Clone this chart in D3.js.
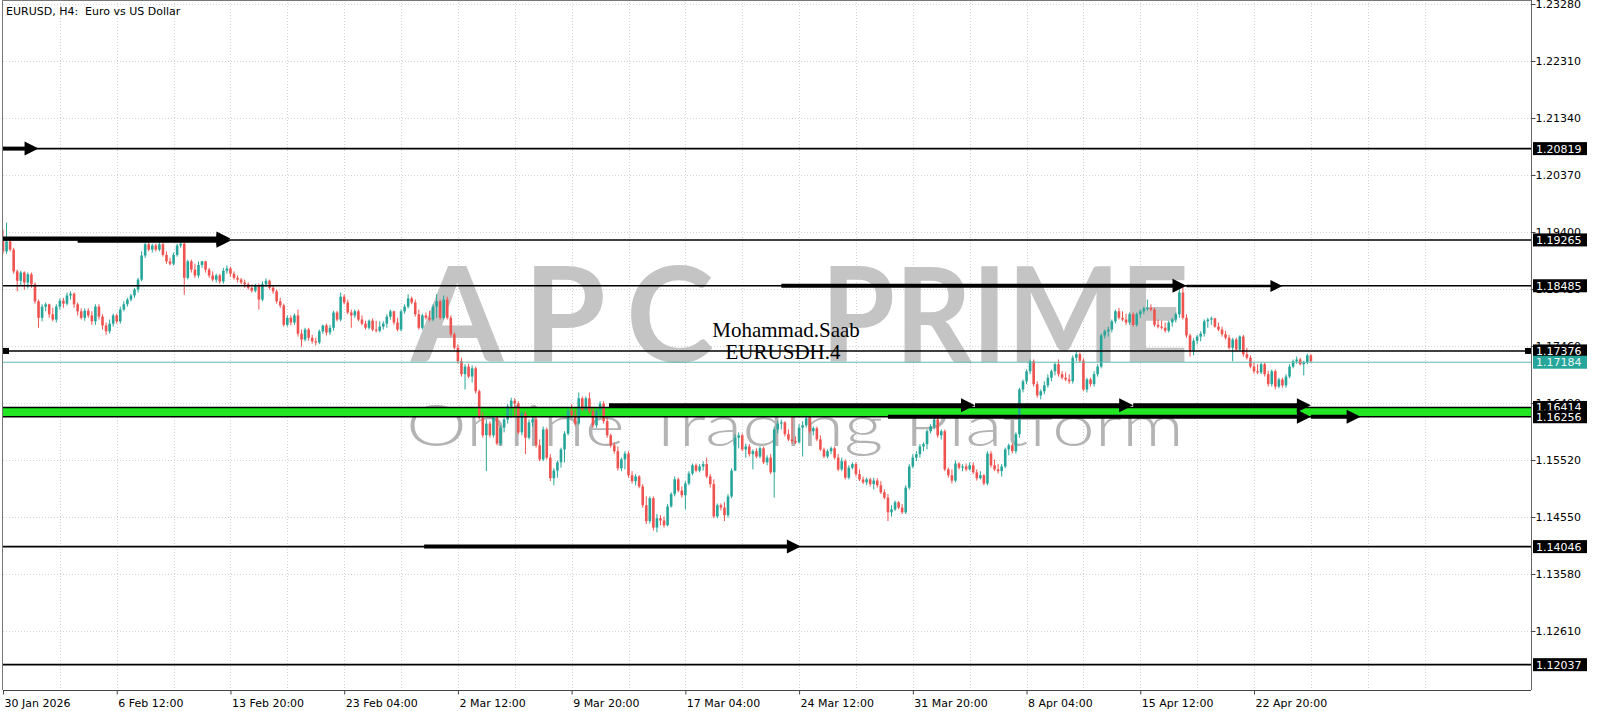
<!DOCTYPE html>
<html><head><meta charset="utf-8">
<script src="https://cdn.jsdelivr.net/npm/d3@7"></script>
<style>html,body{margin:0;padding:0;background:#fff;overflow:hidden}svg{display:block}</style>
</head><body>
<svg id="chart" width="1600" height="711"></svg>
<script>
const chartTitle = "EURUSD, H4:  Euro vs US Dollar";
const opens = [1.1927,1.1907,1.1924,1.1910,1.1873,1.1857,1.1871,1.1854,1.1868,1.1851,
1.1822,1.1794,1.1813,1.1817,1.1800,1.1791,1.1813,1.1823,1.1818,1.1832,
1.1835,1.1817,1.1805,1.1794,1.1806,1.1798,1.1788,1.1813,1.1796,1.1781,
1.1771,1.1784,1.1798,1.1788,1.1808,1.1817,1.1825,1.1832,1.1842,1.1859,
1.1900,1.1919,1.1910,1.1917,1.1910,1.1919,1.1901,1.1890,1.1886,1.1901,
1.1917,1.1920,1.1862,1.1890,1.1876,1.1866,1.1884,1.1890,1.1876,1.1866,
1.1859,1.1866,1.1856,1.1874,1.1878,1.1869,1.1862,1.1859,1.1854,1.1851,
1.1845,1.1840,1.1849,1.1825,1.1851,1.1857,1.1845,1.1839,1.1822,1.1815,
1.1782,1.1794,1.1786,1.1798,1.1767,1.1757,1.1774,1.1760,1.1754,1.1752,
1.1771,1.1781,1.1769,1.1777,1.1803,1.1791,1.1830,1.1820,1.1803,1.1798,
1.1805,1.1791,1.1784,1.1777,1.1789,1.1774,1.1772,1.1779,1.1784,1.1796,
1.1805,1.1786,1.1774,1.1805,1.1813,1.1827,1.1820,1.1800,1.1777,1.1798,
1.1794,1.1791,1.1813,1.1822,1.1794,1.1825,1.1794,1.1766,1.1743,1.1720,
1.1698,1.1711,1.1694,1.1708,1.1669,1.1624,1.1594,1.1614,1.1594,1.1624,
1.1580,1.1607,1.1621,1.1643,1.1653,1.1648,1.1599,1.1631,1.1590,1.1616,
1.1621,1.1577,1.1553,1.1604,1.1556,1.1521,1.1534,1.1548,1.1570,1.1597,
1.1636,1.1628,1.1614,1.1657,1.1638,1.1657,1.1635,1.1611,1.1636,1.1648,
1.1618,1.1594,1.1577,1.1567,1.1538,1.1553,1.1563,1.1526,1.1516,1.1524,
1.1507,1.1475,1.1448,1.1487,1.1437,1.1453,1.1449,1.1441,1.1473,1.1494,
1.1519,1.1500,1.1492,1.1512,1.1529,1.1543,1.1534,1.1541,1.1545,1.1524,
1.1511,1.1456,1.1475,1.1471,1.1458,1.1490,1.1534,1.1590,1.1594,1.1570,
1.1575,1.1562,1.1567,1.1558,1.1572,1.1548,1.1556,1.1531,1.1604,1.1614,
1.1616,1.1596,1.1587,1.1584,1.1582,1.1607,1.1611,1.1623,1.1601,1.1606,
1.1587,1.1570,1.1558,1.1567,1.1572,1.1556,1.1536,1.1550,1.1522,1.1539,
1.1545,1.1528,1.1519,1.1514,1.1519,1.1511,1.1517,1.1509,1.1497,1.1488,
1.1463,1.1468,1.1480,1.1471,1.1463,1.1505,1.1541,1.1556,1.1562,1.1575,
1.1579,1.1601,1.1609,1.1621,1.1594,1.1601,1.1536,1.1526,1.1517,1.1546,
1.1539,1.1541,1.1536,1.1543,1.1531,1.1521,1.1526,1.1512,1.1563,1.1543,
1.1536,1.1533,1.1541,1.1570,1.1577,1.1567,1.1596,1.1672,1.1686,1.1703,
1.1720,1.1681,1.1662,1.1669,1.1679,1.1692,1.1703,1.1715,1.1698,1.1692,
1.1689,1.1686,1.1726,1.1732,1.1721,1.1672,1.1689,1.1681,1.1698,1.1711,
1.1764,1.1771,1.1774,1.1788,1.1805,1.1794,1.1791,1.1786,1.1800,1.1782,
1.1800,1.1805,1.1810,1.1811,1.1808,1.1782,1.1779,1.1777,1.1772,1.1786,
1.1791,1.1800,1.1837,1.1794,1.1764,1.1737,1.1755,1.1762,1.1767,1.1788,
1.1791,1.1793,1.1779,1.1774,1.1766,1.1760,1.1743,1.1757,1.1740,1.1762,
1.1732,1.1726,1.1711,1.1703,1.1701,1.1715,1.1698,1.1681,1.1703,1.1677,
1.1689,1.1679,1.1694,1.1711,1.1720,1.1723,1.1715,1.1718,1.1730];
const highs = [1.1944,1.1956,1.1930,1.1913,1.1876,1.1874,1.1873,1.1871,1.1871,1.1854,
1.1825,1.1817,1.1820,1.1818,1.1811,1.1817,1.1827,1.1828,1.1837,1.1839,
1.1837,1.1820,1.1810,1.1810,1.1810,1.1805,1.1817,1.1817,1.1800,1.1786,
1.1791,1.1801,1.1801,1.1813,1.1822,1.1828,1.1835,1.1845,1.1862,1.1907,
1.1922,1.1922,1.1920,1.1920,1.1922,1.1922,1.1907,1.1896,1.1905,1.1920,
1.1924,1.1922,1.1893,1.1893,1.1886,1.1890,1.1891,1.1891,1.1879,1.1873,
1.1869,1.1869,1.1879,1.1883,1.1881,1.1873,1.1866,1.1862,1.1859,1.1854,
1.1851,1.1852,1.1852,1.1856,1.1861,1.1859,1.1849,1.1842,1.1828,1.1818,
1.1798,1.1798,1.1801,1.1808,1.1774,1.1777,1.1777,1.1765,1.1760,1.1774,
1.1782,1.1784,1.1782,1.1806,1.1806,1.1837,1.1834,1.1825,1.1808,1.1808,
1.1808,1.1798,1.1789,1.1791,1.1793,1.1789,1.1788,1.1788,1.1800,1.1808,
1.1806,1.1794,1.1808,1.1817,1.1834,1.1830,1.1825,1.1808,1.1801,1.1803,
1.1806,1.1817,1.1834,1.1825,1.1832,1.1830,1.1798,1.1769,1.1749,1.1726,
1.1715,1.1716,1.1713,1.1711,1.1672,1.1633,1.1621,1.1618,1.1628,1.1626,
1.1611,1.1624,1.1647,1.1658,1.1657,1.1652,1.1635,1.1635,1.1621,1.1624,
1.1626,1.1587,1.1609,1.1607,1.1562,1.1538,1.1551,1.1573,1.1601,1.1640,
1.1647,1.1638,1.1667,1.1660,1.1660,1.1667,1.1641,1.1640,1.1652,1.1652,
1.1624,1.1597,1.1582,1.1575,1.1556,1.1567,1.1567,1.1533,1.1528,1.1526,
1.1511,1.1490,1.1490,1.1490,1.1460,1.1458,1.1456,1.1477,1.1497,1.1524,
1.1522,1.1507,1.1516,1.1533,1.1546,1.1546,1.1545,1.1550,1.1556,1.1528,
1.1519,1.1478,1.1478,1.1480,1.1494,1.1538,1.1596,1.1599,1.1597,1.1580,
1.1579,1.1570,1.1572,1.1575,1.1575,1.1560,1.1562,1.1609,1.1619,1.1621,
1.1618,1.1604,1.1626,1.1592,1.1613,1.1618,1.1628,1.1626,1.1609,1.1609,
1.1594,1.1573,1.1570,1.1575,1.1575,1.1562,1.1556,1.1553,1.1543,1.1548,
1.1548,1.1536,1.1524,1.1522,1.1522,1.1522,1.1521,1.1516,1.1502,1.1494,
1.1475,1.1483,1.1482,1.1477,1.1509,1.1545,1.1562,1.1567,1.1579,1.1582,
1.1604,1.1613,1.1626,1.1624,1.1604,1.1604,1.1539,1.1536,1.1551,1.1548,
1.1545,1.1546,1.1548,1.1548,1.1536,1.1533,1.1528,1.1567,1.1567,1.1553,
1.1545,1.1545,1.1573,1.1580,1.1580,1.1599,1.1675,1.1689,1.1706,1.1723,
1.1723,1.1686,1.1672,1.1686,1.1698,1.1706,1.1718,1.1723,1.1703,1.1701,
1.1698,1.1730,1.1737,1.1735,1.1725,1.1692,1.1692,1.1703,1.1715,1.1767,
1.1774,1.1779,1.1791,1.1808,1.1811,1.1805,1.1801,1.1803,1.1803,1.1803,
1.1808,1.1813,1.1825,1.1817,1.1811,1.1791,1.1789,1.1786,1.1789,1.1794,
1.1803,1.1842,1.1847,1.1800,1.1767,1.1759,1.1765,1.1771,1.1791,1.1794,
1.1796,1.1794,1.1786,1.1779,1.1772,1.1765,1.1760,1.1760,1.1764,1.1765,
1.1743,1.1730,1.1718,1.1715,1.1718,1.1718,1.1704,1.1706,1.1706,1.1692,
1.1692,1.1698,1.1715,1.1723,1.1728,1.1726,1.1721,1.1733,1.1732];
const lows = [1.1903,1.1903,1.1907,1.1869,1.1839,1.1849,1.1842,1.1844,1.1845,1.1818,
1.1777,1.1788,1.1805,1.1794,1.1788,1.1786,1.1808,1.1811,1.1815,1.1825,
1.1811,1.1798,1.1791,1.1789,1.1794,1.1782,1.1782,1.1791,1.1774,1.1765,
1.1767,1.1779,1.1784,1.1784,1.1805,1.1813,1.1822,1.1828,1.1837,1.1856,
1.1896,1.1907,1.1905,1.1907,1.1907,1.1898,1.1886,1.1883,1.1883,1.1898,
1.1913,1.1833,1.1859,1.1871,1.1862,1.1862,1.1879,1.1871,1.1862,1.1856,
1.1854,1.1852,1.1852,1.1869,1.1864,1.1859,1.1854,1.1851,1.1845,1.1842,
1.1837,1.1837,1.1808,1.1822,1.1847,1.1842,1.1835,1.1818,1.1811,1.1779,
1.1779,1.1781,1.1782,1.1762,1.1745,1.1754,1.1755,1.1750,1.1747,1.1749,
1.1767,1.1764,1.1765,1.1772,1.1788,1.1788,1.1817,1.1800,1.1777,1.1794,
1.1788,1.1781,1.1774,1.1774,1.1771,1.1769,1.1769,1.1774,1.1777,1.1791,
1.1782,1.1771,1.1771,1.1801,1.1810,1.1817,1.1796,1.1774,1.1774,1.1791,
1.1788,1.1788,1.1794,1.1791,1.1791,1.1791,1.1762,1.1740,1.1716,1.1694,
1.1672,1.1691,1.1684,1.1665,1.1621,1.1590,1.1533,1.1590,1.1590,1.1577,
1.1577,1.1599,1.1614,1.1624,1.1626,1.1596,1.1594,1.1562,1.1587,1.1609,
1.1573,1.1550,1.1550,1.1553,1.1516,1.1509,1.1522,1.1539,1.1548,1.1594,
1.1624,1.1611,1.1611,1.1635,1.1635,1.1631,1.1607,1.1607,1.1624,1.1614,
1.1590,1.1573,1.1563,1.1534,1.1533,1.1536,1.1522,1.1512,1.1509,1.1504,
1.1471,1.1443,1.1444,1.1432,1.1429,1.1441,1.1437,1.1439,1.1471,1.1490,
1.1497,1.1488,1.1468,1.1509,1.1526,1.1531,1.1531,1.1534,1.1521,1.1505,
1.1453,1.1453,1.1466,1.1448,1.1454,1.1487,1.1533,1.1572,1.1567,1.1556,
1.1558,1.1536,1.1555,1.1555,1.1545,1.1543,1.1528,1.1488,1.1597,1.1604,
1.1592,1.1584,1.1580,1.1579,1.1580,1.1558,1.1607,1.1597,1.1594,1.1584,
1.1567,1.1555,1.1555,1.1562,1.1553,1.1533,1.1533,1.1519,1.1519,1.1536,
1.1524,1.1516,1.1511,1.1509,1.1507,1.1502,1.1505,1.1494,1.1485,1.1448,
1.1456,1.1465,1.1468,1.1460,1.1460,1.1502,1.1538,1.1550,1.1556,1.1567,
1.1570,1.1597,1.1604,1.1590,1.1587,1.1533,1.1522,1.1512,1.1514,1.1536,
1.1533,1.1533,1.1534,1.1528,1.1517,1.1519,1.1509,1.1509,1.1539,1.1533,
1.1529,1.1524,1.1538,1.1560,1.1563,1.1563,1.1590,1.1667,1.1681,1.1698,
1.1677,1.1658,1.1655,1.1664,1.1675,1.1686,1.1696,1.1694,1.1689,1.1686,
1.1682,1.1682,1.1720,1.1718,1.1669,1.1667,1.1677,1.1677,1.1694,1.1708,
1.1759,1.1762,1.1769,1.1784,1.1791,1.1788,1.1782,1.1782,1.1779,1.1779,
1.1794,1.1800,1.1806,1.1805,1.1779,1.1776,1.1774,1.1769,1.1769,1.1779,
1.1786,1.1794,1.1791,1.1760,1.1728,1.1730,1.1749,1.1754,1.1762,1.1777,
1.1782,1.1777,1.1771,1.1762,1.1757,1.1740,1.1720,1.1737,1.1737,1.1728,
1.1723,1.1708,1.1699,1.1698,1.1698,1.1694,1.1677,1.1677,1.1672,1.1674,
1.1675,1.1675,1.1691,1.1708,1.1716,1.1713,1.1696,1.1715,1.1718];
const closes = [1.1907,1.1924,1.1910,1.1873,1.1857,1.1871,1.1854,1.1868,1.1851,1.1822,
1.1794,1.1813,1.1817,1.1800,1.1791,1.1813,1.1823,1.1818,1.1832,1.1835,
1.1817,1.1805,1.1794,1.1806,1.1798,1.1788,1.1813,1.1796,1.1781,1.1771,
1.1784,1.1798,1.1788,1.1808,1.1817,1.1825,1.1832,1.1842,1.1859,1.1900,
1.1919,1.1910,1.1917,1.1910,1.1919,1.1901,1.1890,1.1886,1.1901,1.1917,
1.1920,1.1862,1.1890,1.1876,1.1866,1.1884,1.1890,1.1876,1.1866,1.1859,
1.1866,1.1856,1.1874,1.1878,1.1869,1.1862,1.1859,1.1854,1.1851,1.1845,
1.1840,1.1849,1.1825,1.1851,1.1857,1.1845,1.1839,1.1822,1.1815,1.1782,
1.1794,1.1786,1.1798,1.1767,1.1757,1.1774,1.1760,1.1754,1.1752,1.1771,
1.1781,1.1769,1.1777,1.1803,1.1791,1.1830,1.1820,1.1803,1.1798,1.1805,
1.1791,1.1784,1.1777,1.1789,1.1774,1.1772,1.1779,1.1784,1.1796,1.1805,
1.1786,1.1774,1.1805,1.1813,1.1827,1.1820,1.1800,1.1777,1.1798,1.1794,
1.1791,1.1813,1.1822,1.1794,1.1825,1.1794,1.1766,1.1743,1.1720,1.1698,
1.1711,1.1694,1.1708,1.1669,1.1624,1.1594,1.1614,1.1594,1.1624,1.1580,
1.1607,1.1621,1.1643,1.1653,1.1648,1.1599,1.1631,1.1590,1.1616,1.1621,
1.1577,1.1553,1.1604,1.1556,1.1521,1.1534,1.1548,1.1570,1.1597,1.1636,
1.1628,1.1614,1.1657,1.1638,1.1657,1.1635,1.1611,1.1636,1.1648,1.1618,
1.1594,1.1577,1.1567,1.1538,1.1553,1.1563,1.1526,1.1516,1.1524,1.1507,
1.1475,1.1448,1.1487,1.1437,1.1453,1.1449,1.1441,1.1473,1.1494,1.1519,
1.1500,1.1492,1.1512,1.1529,1.1543,1.1534,1.1541,1.1545,1.1524,1.1511,
1.1456,1.1475,1.1471,1.1458,1.1490,1.1534,1.1590,1.1594,1.1570,1.1575,
1.1562,1.1567,1.1558,1.1572,1.1548,1.1556,1.1531,1.1604,1.1614,1.1616,
1.1596,1.1587,1.1584,1.1582,1.1607,1.1611,1.1623,1.1601,1.1606,1.1587,
1.1570,1.1558,1.1567,1.1572,1.1556,1.1536,1.1550,1.1522,1.1539,1.1545,
1.1528,1.1519,1.1514,1.1519,1.1511,1.1517,1.1509,1.1497,1.1488,1.1463,
1.1468,1.1480,1.1471,1.1463,1.1505,1.1541,1.1556,1.1562,1.1575,1.1579,
1.1601,1.1609,1.1621,1.1594,1.1601,1.1536,1.1526,1.1517,1.1546,1.1539,
1.1541,1.1536,1.1543,1.1531,1.1521,1.1526,1.1512,1.1563,1.1543,1.1536,
1.1533,1.1541,1.1570,1.1577,1.1567,1.1596,1.1672,1.1686,1.1703,1.1720,
1.1681,1.1662,1.1669,1.1679,1.1692,1.1703,1.1715,1.1698,1.1692,1.1689,
1.1686,1.1726,1.1732,1.1721,1.1672,1.1689,1.1681,1.1698,1.1711,1.1764,
1.1771,1.1774,1.1788,1.1805,1.1794,1.1791,1.1786,1.1800,1.1782,1.1800,
1.1805,1.1810,1.1811,1.1808,1.1782,1.1779,1.1777,1.1772,1.1786,1.1791,
1.1800,1.1837,1.1794,1.1764,1.1737,1.1755,1.1762,1.1767,1.1788,1.1791,
1.1793,1.1779,1.1774,1.1766,1.1760,1.1743,1.1757,1.1740,1.1762,1.1732,
1.1726,1.1711,1.1703,1.1701,1.1715,1.1698,1.1681,1.1703,1.1677,1.1689,
1.1679,1.1694,1.1711,1.1720,1.1723,1.1715,1.1718,1.1730,1.1720];

const priceTicks = [1.23280,1.22310,1.21340,1.20370,1.19400,1.18430,1.17460,1.16490,1.15520,1.14550,1.13580,1.12610];
const timeTickBars = [0,32,64,96,128,160,192,224,256,288,320,352];
const timeTickLabels = ["30 Jan 2026","6 Feb 12:00","13 Feb 20:00","23 Feb 04:00","2 Mar 12:00","9 Mar 20:00","17 Mar 04:00","24 Mar 12:00","31 Mar 20:00","8 Apr 04:00","15 Apr 12:00","22 Apr 20:00"];
const levelPrices = [1.20819,1.19265,1.18485,1.17376,1.16414,1.16256,1.14046,1.12037];
const zoneTop = 1.16414, zoneBottom = 1.16256;
const currentPrice = 1.17184;
// annotation arrows: price level, start bar, end bar
const arrowPrices = [1.20819,1.1929,1.1925,1.18485,1.1848,1.1645,1.1645,1.1645,1.16256,1.16256,1.14046];
const arrowFrom   = [0,0,21,219,333,170.5,273.5,318,249,368,118.5];
const arrowTo     = [10,64,64,333,360,273.5,318,368,368,382,224.5];
const arrowHeavy  = [true,true,true,true,false,true,true,true,true,true,true];
const noteLines = ["Mohammad.Saab","EURUSDH.4"];
const watermarkMain = ["APC","PRIME"];
const watermarkSub = "Online Trading Platform";

const W=1600,H=711, L=3, R=1531, T=0, B=690;
const svg=d3.select('#chart');
svg.append('rect').attr('width',W).attr('height',H).attr('fill','#fff');
const x=d3.scaleLinear().domain([0,352]).range([3,1254]);
const y=d3.scaleLinear().domain([1.11606,1.23348]).range([B,T]);
const FONT="Tahoma, 'DejaVu Sans', sans-serif";

svg.append('clipPath').attr('id','plot').append('rect').attr('x',L).attr('y',T).attr('width',R-L).attr('height',B-T);
const plot=svg.append('g').attr('clip-path','url(#plot)');

// grid
const nBars=closes.length;
plot.append('g').selectAll('line').data(d3.range(16,nBars+40,16)).join('line')
 .attr('x1',d=>Math.round(x(d))+0.5).attr('x2',d=>Math.round(x(d))+0.5).attr('y1',T).attr('y2',B)
 .attr('stroke','#d4d4d4').attr('stroke-dasharray','1,2');
plot.append('g').selectAll('line').data(priceTicks).join('line')
 .attr('x1',L).attr('x2',R).attr('y1',d=>Math.round(y(d))+0.5).attr('y2',d=>Math.round(y(d))+0.5)
 .attr('stroke','#d4d4d4').attr('stroke-dasharray','1,2');

// watermark
const wm=plot.append('g');
wm.append('text').attr('x',411).attr('y',362).attr('textLength',303).attr('lengthAdjust','spacing')
 .attr('font-family','Lato, "Open Sans", sans-serif').attr('font-weight','bold').attr('font-size',133).attr('fill','#c4c4c4').text(watermarkMain[0]);
wm.append('text').attr('x',821).attr('y',362).attr('textLength',368).attr('lengthAdjust','spacingAndGlyphs')
 .attr('font-family','Lato, "Open Sans", sans-serif').attr('font-weight','bold').attr('font-size',133).attr('fill','#c4c4c4').text(watermarkMain[1]);
wm.append('text').attr('x',406).attr('y',446).attr('textLength',778).attr('lengthAdjust','spacingAndGlyphs')
 .attr('font-family','Lato, "Open Sans", sans-serif').attr('font-weight',300).attr('font-size',58).attr('fill','#b3b3b3').text(watermarkSub);

// support zone
plot.append('rect').attr('x',L).attr('width',R-L).attr('y',y(zoneTop)).attr('height',y(zoneBottom)-y(zoneTop)).attr('fill','#22e622');

// candles
const bw=2.6;
const cg=plot.append('g');
for(let i=0;i<nBars;i++){
  const o=opens[i],c=closes[i],h=Math.max(highs[i],o,c),l=Math.min(lows[i],o,c);
  const col=c>=o?'#26a69a':'#ef5350';
  const cx=x(i);
  cg.append('line').attr('x1',cx).attr('x2',cx).attr('y1',y(h)).attr('y2',y(l)).attr('stroke',col).attr('stroke-width',1);
  const top=y(Math.max(o,c)), bot=y(Math.min(o,c));
  cg.append('rect').attr('x',cx-bw/2).attr('width',bw).attr('y',top).attr('height',Math.max(1,bot-top)).attr('fill',col);
}

// horizontal levels
plot.append('g').selectAll('line').data(levelPrices).join('line')
 .attr('x1',L).attr('x2',R).attr('y1',d=>y(d)).attr('y2',d=>y(d)).attr('stroke','#000').attr('stroke-width',1.6);
plot.append('line').attr('x1',L).attr('x2',R).attr('y1',y(currentPrice)).attr('y2',y(currentPrice)).attr('stroke','#5cb8b0').attr('stroke-width',1);
// selection markers on 1.17376 line
plot.append('rect').attr('x',L).attr('y',y(1.17376)-3).attr('width',6).attr('height',6).attr('fill','#000');
plot.append('rect').attr('x',R-6).attr('y',y(1.17376)-3).attr('width',6).attr('height',6).attr('fill','#000');

// arrows
const ag=plot.append('g');
arrowPrices.forEach((p,k)=>{
  const x1=x(arrowFrom[k]), x2=x(arrowTo[k]), yy=y(p);
  const sw=arrowHeavy[k]?4:2.5, hl=arrowHeavy[k]?14:12, hh=arrowHeavy[k]?7:6;
  ag.append('line').attr('x1',x1).attr('x2',x2-hl+2).attr('y1',yy).attr('y2',yy).attr('stroke','#000').attr('stroke-width',sw);
  ag.append('path').attr('d',`M${x2},${yy}L${x2-hl},${yy-hh}L${x2-hl},${yy+hh}Z`).attr('fill','#000');
});

// notes
svg.append('text').attr('x',786).attr('y',337).attr('text-anchor','middle').attr('font-family','"Liberation Serif", "Times New Roman", serif').attr('font-size',21).attr('fill','#000').text(noteLines[0]);
svg.append('text').attr('x',783).attr('y',359).attr('text-anchor','middle').attr('font-family','"Liberation Serif", "Times New Roman", serif').attr('font-size',21).attr('fill','#000').text(noteLines[1]);

// frame
svg.append('line').attr('x1',L-0.5).attr('x2',L-0.5).attr('y1',T).attr('y2',B).attr('stroke','#777');
svg.append('line').attr('x1',L).attr('x2',R).attr('y1',T+0.5).attr('y2',T+0.5).attr('stroke','#777');

// right axis
const ya=svg.append('g').attr('transform',`translate(${R+0.5},0)`)
 .call(d3.axisRight(y).tickValues(priceTicks).tickFormat(d3.format('.5f')).tickSize(4).tickSizeOuter(0));
ya.select('.domain').attr('stroke','#666').attr('d',`M0,${T}V${B}`);
ya.selectAll('.tick line').attr('stroke','#444');
ya.selectAll('.tick text').attr('font-family',FONT).attr('font-size',11).attr('fill','#000').attr('x',4);

// bottom axis
const xa=svg.append('g').attr('transform',`translate(0,${B+0.5})`)
 .call(d3.axisBottom(x).tickValues(timeTickBars).tickFormat((d,i)=>timeTickLabels[i]).tickSize(4).tickSizeOuter(0));
xa.select('.domain').attr('stroke','#444').attr('d',`M${L},0H${R}`);
xa.selectAll('.tick line').attr('stroke','#444');
xa.selectAll('.tick text').attr('font-family',FONT).attr('font-size',11).attr('fill','#000').attr('text-anchor','start').attr('dx',0).attr('x',1).attr('y',9);

// price label boxes
const lb=svg.append('g');
levelPrices.forEach(p=>{
  const yy=y(p);
  lb.append('rect').attr('x',R+2).attr('y',yy-6.5).attr('width',54).attr('height',13).attr('fill','#000');
  lb.append('text').attr('x',R+5).attr('y',yy+4).attr('font-family',FONT).attr('font-size',11).attr('fill','#fff').text(d3.format('.5f')(p));
});
lb.append('rect').attr('x',R+2).attr('y',y(currentPrice)-6.5).attr('width',54).attr('height',13).attr('fill','#26a69a');
lb.append('text').attr('x',R+5).attr('y',y(currentPrice)+4).attr('font-family',FONT).attr('font-size',11).attr('fill','#e8f6f4').text(d3.format('.5f')(currentPrice));

// title
svg.append('text').attr('x',6).attr('y',15).attr('font-family',FONT).attr('font-size',11).attr('fill','#000')
 .attr('xml:space','preserve').style('white-space','pre').text(chartTitle);
</script>
</body></html>
